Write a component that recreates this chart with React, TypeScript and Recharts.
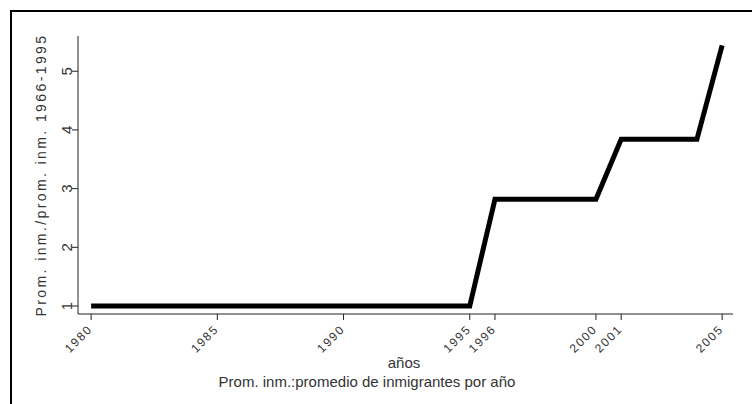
import React from 'react';
import { LineChart, Line, XAxis, YAxis, Label } from 'recharts';

// años y cociente de promedios
const years = [
  1980, 1981, 1982, 1983, 1984, 1985, 1986, 1987, 1988, 1989, 1990, 1991, 1992,
  1993, 1994, 1995, 1996, 1997, 1998, 1999, 2000, 2001, 2002, 2003, 2004, 2005,
];
const ratio = [
  1, 1, 1, 1, 1, 1, 1, 1, 1, 1, 1, 1, 1,
  1, 1, 1, 2.82, 2.82, 2.82, 2.82, 2.82, 3.84, 3.84, 3.84, 3.84, 5.44,
];
const xTicks = [1980, 1985, 1990, 1995, 1996, 2000, 2001, 2005];
const yTicks = [1, 2, 3, 4, 5];

const data = years.map((y, i) => ({ year: y, value: ratio[i] }));

const FONT = '"Liberation Sans", Arial, Helvetica, sans-serif';

const XTick = (props: any) => {
  const { x, y, payload } = props;
  return (
    <g transform={`translate(${x},${y})`}>
      <text
        x={2}
        y={10}
        textAnchor="end"
        fontFamily={FONT}
        fontSize={12}
        letterSpacing={1.6}
        fill="#333"
        transform="rotate(-45, 2, 10)"
      >
        {payload.value}
      </text>
    </g>
  );
};

const YTick = (props: any) => {
  const { x, y, payload } = props;
  return (
    <text
      x={x}
      y={y}
      textAnchor="middle"
      fontFamily={FONT}
      fontSize={15}
      fill="#333"
      transform={`rotate(-90, ${x}, ${y})`}
    >
      {payload.value}
    </text>
  );
};

const YTitle = () => (
  <text
    x={46}
    y={175}
    textAnchor="middle"
    fontFamily={FONT}
    fontSize={14}
    letterSpacing={2.4}
    fill="#333"
    transform="rotate(-90, 46, 175)"
  >
    Prom. inm./prom. inm. 1966-1995
  </text>
);

const XTitle = () => (
  <g fontFamily={FONT} fontSize={15} fill="#333">
    <text x={404} y={368} textAnchor="middle">
      años
    </text>
    <text x={367} y={387} textAnchor="middle">
      Prom. inm.:promedio de inmigrantes por año
    </text>
  </g>
);

export default function App() {
  return (
    <div
      style={{
        position: 'absolute',
        left: 0,
        top: 0,
        width: 752,
        height: 404,
        background: '#fff',
        overflow: 'hidden',
      }}
    >
      <div
        style={{
          position: 'absolute',
          left: 10,
          top: 10,
          width: 900,
          height: 600,
          borderTop: '2px solid #000',
          borderLeft: '2px solid #000',
        }}
      />
      <div style={{ position: 'absolute', left: 0, top: 0 }}>
        <LineChart
          width={752}
          height={404}
          data={data}
          margin={{ top: 36, right: 19, bottom: 30, left: 0 }}
        >
          <XAxis
            dataKey="year"
            type="number"
            domain={[1979.48, 2005.43]}
            ticks={xTicks}
            height={60}
            tickSize={6}
            tickMargin={0}
            stroke="#222"
            tick={<XTick />}
            interval={0}
          >
            <Label content={<XTitle />} />
          </XAxis>
          <YAxis
            type="number"
            domain={[0.864, 5.6]}
            ticks={yTicks}
            width={78}
            tickSize={6}
            tickMargin={0}
            stroke="#222"
            tick={<YTick />}
            interval={0}
          >
            <Label content={<YTitle />} />
          </YAxis>
          <Line
            type="linear"
            dataKey="value"
            stroke="#000"
            strokeWidth={5}
            strokeLinejoin="miter"
            dot={false}
            activeDot={false}
            isAnimationActive={false}
          />
        </LineChart>
      </div>
    </div>
  );
}
